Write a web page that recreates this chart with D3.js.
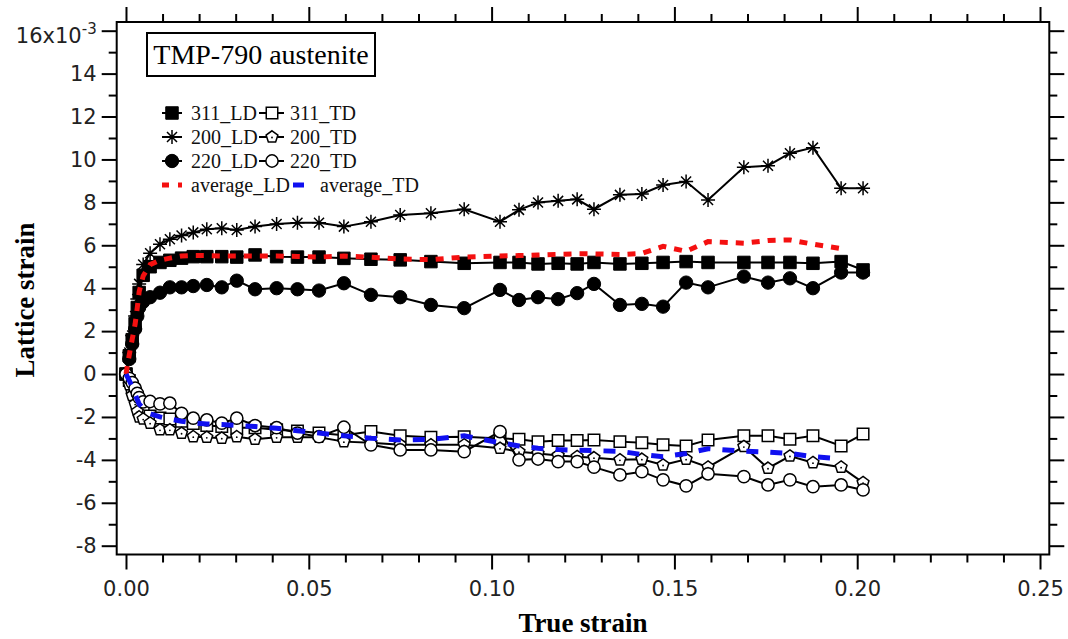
<!DOCTYPE html>
<html>
<head>
<meta charset="utf-8">
<script src="https://cdn.jsdelivr.net/npm/d3@7"></script>
<style>
  body { margin: 0; background: #fff; }
</style>
</head>
<body>
<div id="chart"></div>
<script>
// true strain (shared by all series)
const strain = [0, 0.0009, 0.0017, 0.0025, 0.0031, 0.0036, 0.0047, 0.0066, 0.0093, 0.012, 0.0152, 0.0184, 0.0221, 0.0262, 0.0303, 0.0353, 0.0412, 0.0469, 0.0528, 0.0596,
  0.067, 0.075, 0.0834, 0.0925, 0.1023, 0.1075, 0.1127, 0.1182, 0.1234, 0.128, 0.1351, 0.1411, 0.1469, 0.1532, 0.1592, 0.169, 0.1756, 0.1816, 0.1879, 0.1956, 0.2016];

// lattice strain, x10^-3
const ld311 = [0, 0.85, 1.6, 2.35, 3.1, 3.8, 4.6, 5.0, 5.2, 5.3, 5.4, 5.47, 5.47, 5.47, 5.45, 5.55, 5.47, 5.45, 5.45, 5.39,
  5.35, 5.32, 5.24, 5.16, 5.2, 5.2, 5.13, 5.16, 5.13, 5.2, 5.13, 5.16, 5.2, 5.24, 5.2, 5.2, 5.2, 5.2, 5.16, 5.24, 4.85];
const td311 = [0, -0.3, -0.6, -0.9, -1.2, -1.45, -1.75, -1.95, -2.05, -2.1, -2.2, -2.3, -2.4, -2.45, -2.5, -2.5, -2.6, -2.65, -2.75, -2.85,
  -2.68, -2.88, -2.95, -2.92, -3.0, -3.04, -3.15, -3.1, -3.1, -3.07, -3.15, -3.2, -3.3, -3.35, -3.07, -2.88, -2.88, -3.04, -2.88, -3.35, -2.8];
const ld200 = [0, 1.0, 1.8, 2.7, 3.5, 4.2, 5.1, 5.63, 6.05, 6.28, 6.46, 6.6, 6.75, 6.79, 6.71, 6.87, 6.99, 7.05, 7.05, 6.87,
  7.1, 7.41, 7.49, 7.68, 7.1, 7.65, 7.99, 8.07, 8.14, 7.68, 8.35, 8.39, 8.81, 8.97, 8.11, 9.64, 9.71, 10.29, 10.55, 8.66, 8.66];
const td200 = [0, -0.5, -1.0, -1.4, -1.75, -2.0, -2.1, -2.29, -2.6, -2.6, -2.76, -2.92, -2.95, -2.99, -2.92, -3.04, -2.95, -2.95, -2.95, -3.15,
  -3.2, -3.3, -3.3, -3.3, -3.46, -3.62, -3.7, -3.8, -3.85, -3.9, -4.0, -3.97, -4.24, -3.97, -4.34, -3.38, -4.39, -3.82, -4.13, -4.34, -5.06];
const ld220 = [0, 0.7, 1.4, 2.1, 2.7, 3.1, 3.37, 3.58, 3.79, 4.04, 4.04, 4.1, 4.15, 4.04, 4.35, 3.95, 4.0, 3.95, 3.89, 4.23,
  3.69, 3.58, 3.22, 3.07, 3.92, 3.45, 3.58, 3.49, 3.77, 4.2, 3.22, 3.27, 3.14, 4.26, 4.04, 4.54, 4.26, 4.46, 4.0, 4.73, 4.73];
const td220 = [0, -0.2, -0.4, -0.66, -0.9, -1.1, -1.3, -1.28, -1.39, -1.36, -1.83, -2.06, -2.14, -2.29, -2.06, -2.4, -2.5, -2.75, -2.92, -2.48,
  -3.3, -3.54, -3.54, -3.62, -2.68, -4.0, -3.96, -4.08, -4.08, -4.34, -4.7, -4.55, -4.93, -5.21, -4.65, -4.78, -5.17, -4.93, -5.25, -5.17, -5.4];
const avgLD = [0, 0.9, 1.62, 2.33, 3.11, 3.84, 4.57, 5.1, 5.3, 5.4, 5.5, 5.52, 5.52, 5.5, 5.5, 5.5, 5.5, 5.48, 5.45, 5.5,
  5.44, 5.36, 5.33, 5.45, 5.5, 5.52, 5.55, 5.58, 5.6, 5.6, 5.57, 5.62, 5.95, 5.72, 6.17, 6.1, 6.22, 6.25, 6.05, 5.85, null];
const avgTD = [0, -0.3, -0.6, -0.95, -1.2, -1.4, -1.6, -1.85, -2.0, -2.1, -2.2, -2.28, -2.33, -2.35, -2.4, -2.45, -2.53, -2.64, -2.75, -2.88,
  -2.99, -3.07, -3.05, -2.88, -3.2, -3.35, -3.46, -3.52, -3.55, -3.57, -3.6, -3.75, -3.85, -3.7, -3.48, -3.6, -3.64, -3.7, -3.85, -3.95, null];

const xMajor = [0, 0.05, 0.10, 0.15, 0.20, 0.25];
const xTickLabels = ['0.00', '0.05', '0.10', '0.15', '0.20', '0.25'];
const yMajor = [-8, -6, -4, -2, 0, 2, 4, 6, 8, 10, 12, 14, 16];

const W = 1068, H = 639;
const svg = d3.select('#chart').append('svg')
        .attr('width', W)
        .attr('height', H);

const x = d3.scaleLinear().domain([-0.00254, 0.25254]).range([116.7, 1049.3]);
const y = d3.scaleLinear().domain([-8.41, 16.405]).range([554.5, 22]);

const xMinor = d3.range(1, 26).map(i => i / 100).filter(v => Math.round(v * 100) % 5 !== 0);
const yMinor = d3.range(-7, 16, 2);

const sans = 'DejaVu Sans, Liberation Sans, sans-serif';
const serif = 'Liberation Serif, Times New Roman, serif';

// axes: ticks point outward on all four sides
const axisG = (axis, tx, ty) => svg.append('g')
        .attr('transform', `translate(${tx},${ty})`)
        .call(axis)
        .call(g => g.select('.domain').remove())
        .call(g => g.selectAll('line').attr('stroke', '#000').attr('stroke-width', 2))
        .attr('font-family', sans)
        .attr('font-size', 21);

axisG(d3.axisBottom(x).tickValues(xMajor).tickSize(15).tickPadding(12).tickFormat((d, i) => xTickLabels[i]), 0, 554.5);
axisG(d3.axisBottom(x).tickValues(xMinor).tickSize(8).tickFormat(''), 0, 554.5);
axisG(d3.axisTop(x).tickValues(xMajor).tickSize(15).tickFormat(''), 0, 22);
axisG(d3.axisTop(x).tickValues(xMinor).tickSize(8).tickFormat(''), 0, 22);
const yAxisG = axisG(d3.axisLeft(y).tickValues(yMajor).tickSize(15).tickPadding(5).tickFormat(d => d), 116.7, 0);
axisG(d3.axisLeft(y).tickValues(yMinor).tickSize(8).tickFormat(''), 116.7, 0);
axisG(d3.axisRight(y).tickValues(yMajor).tickSize(15).tickFormat(''), 1049.3, 0);
axisG(d3.axisRight(y).tickValues(yMinor).tickSize(8).tickFormat(''), 1049.3, 0);

svg.selectAll('.tick text').attr('fill', '#222');

// top label carries the exponent
yAxisG.selectAll('.tick text').filter(d => d === 16)
        .text('16x10')
        .attr('y', 5)
        .append('tspan')
        .attr('dy', -9)
        .attr('font-size', 15)
        .text('-3');

// frame
svg.append('rect')
        .attr('x', 116.7).attr('y', 22)
        .attr('width', 1049.3 - 116.7).attr('height', 554.5 - 22)
        .attr('fill', 'none')
        .attr('stroke', '#000')
        .attr('stroke-width', 2);

// markers
const pentagon = r => {
        const p = d3.range(5).map(k => {
                const a = -Math.PI / 2 + k * 2 * Math.PI / 5;
                return [r * Math.cos(a), r * Math.sin(a)];
        });
        return 'M' + p.map(q => q.join(',')).join('L') + 'Z';
};
const markerPath = {
        sqFill: d3.symbol(d3.symbolSquare, 156)(),
        sqOpen: d3.symbol(d3.symbolSquare, 132)(),
        cirFill: d3.symbol(d3.symbolCircle, 140)(),
        cirOpen: d3.symbol(d3.symbolCircle, 118)(),
        star: 'M-7,0L7,0M0,-7L0,7M-5,-5L5,5M-5,5L5,-5',
        pent: pentagon(6.2)
};
const drawMarker = (g, type, cx, cy) => {
        const m = g.append('path')
                .attr('d', markerPath[type])
                .attr('transform', `translate(${cx},${cy})`)
                .attr('stroke', '#000');
        if (type === 'sqFill' || type === 'cirFill') m.attr('fill', '#000').attr('stroke-width', 1);
        else if (type === 'star') m.attr('fill', 'none').attr('stroke-width', 1.5);
        else m.attr('fill', '#fff').attr('stroke-width', 1.5);
        if (type === 'pent') {
                g.append('circle').attr('cx', cx).attr('cy', cy + 0.5).attr('r', 0.9).attr('fill', '#000');
        }
};

const series = [
        { name: '311_LD', values: ld311, marker: 'sqFill' },
        { name: '311_TD', values: td311, marker: 'sqOpen' },
        { name: '200_LD', values: ld200, marker: 'star' },
        { name: '200_TD', values: td200, marker: 'pent' },
        { name: '220_LD', values: ld220, marker: 'cirFill' },
        { name: '220_TD', values: td220, marker: 'cirOpen' }
];

const line = d3.line()
        .defined(d => d[1] != null)
        .x(d => x(d[0]))
        .y(d => y(d[1]));

const plot = svg.append('g');
series.forEach(s => {
        const pts = strain.map((v, i) => [v, s.values[i]]);
        const g = plot.append('g');
        g.append('path')
                .attr('d', line(pts))
                .attr('fill', 'none')
                .attr('stroke', '#000')
                .attr('stroke-width', 2);
        pts.forEach(p => drawMarker(g, s.marker, x(p[0]), y(p[1])));
});

const averages = [
        { name: 'average_LD', values: avgLD, color: '#f41010', dash: '8,8' },
        { name: 'average_TD', values: avgTD, color: '#1010f0', dash: '12,12' }
];
averages.forEach(a => {
        plot.append('path')
                .attr('d', line(strain.map((v, i) => [v, a.values[i]])))
                .attr('fill', 'none')
                .attr('stroke', a.color)
                .attr('stroke-width', 5)
                .attr('stroke-dasharray', a.dash);
});

// title box
svg.append('rect')
        .attr('x', 147).attr('y', 33)
        .attr('width', 228).attr('height', 43)
        .attr('fill', '#fff')
        .attr('stroke', '#000')
        .attr('stroke-width', 2);
svg.append('text')
        .attr('x', 261).attr('y', 64)
        .attr('text-anchor', 'middle')
        .attr('font-family', serif)
        .attr('font-size', 28)
        .text('TMP-790 austenite');

// legend
const legendRows = [
        ['311_LD', 'sqFill', '311_TD', 'sqOpen'],
        ['200_LD', 'star', '200_TD', 'pent'],
        ['220_LD', 'cirFill', '220_TD', 'cirOpen']
];
const legend = svg.append('g')
        .attr('font-family', serif)
        .attr('font-size', 20)
        .attr('fill', '#111');
legendRows.forEach((r, i) => {
        const cy = 113 + i * 24;
        [[162, 182, 172, 191, r[0], r[1]], [259, 284, 272, 290, r[2], r[3]]].forEach(c => {
                legend.append('line')
                        .attr('x1', c[0]).attr('x2', c[1])
                        .attr('y1', cy).attr('y2', cy)
                        .attr('stroke', '#000').attr('stroke-width', 2);
                drawMarker(legend, c[5], c[2], cy);
                legend.append('text').attr('x', c[3]).attr('y', cy + 7).text(c[4]);
        });
});
const avgY = 185;
legend.append('line')
        .attr('x1', 162).attr('x2', 182).attr('y1', avgY).attr('y2', avgY)
        .attr('stroke', averages[0].color).attr('stroke-width', 5).attr('stroke-dasharray', '7,9');
legend.append('text').attr('x', 191).attr('y', avgY + 7).text(averages[0].name);
legend.append('line')
        .attr('x1', 293).attr('x2', 304).attr('y1', avgY).attr('y2', avgY)
        .attr('stroke', averages[1].color).attr('stroke-width', 5);
legend.append('text').attr('x', 320).attr('y', avgY + 7).text(averages[1].name);

// axis titles
svg.append('text')
        .attr('x', 583).attr('y', 632)
        .attr('text-anchor', 'middle')
        .attr('font-family', serif)
        .attr('font-weight', 'bold')
        .attr('font-size', 27)
        .text('True strain');
svg.append('text')
        .attr('transform', 'translate(34,300) rotate(-90)')
        .attr('text-anchor', 'middle')
        .attr('font-family', serif)
        .attr('font-weight', 'bold')
        .attr('font-size', 27)
        .text('Lattice strain');
</script>
</body>
</html>
